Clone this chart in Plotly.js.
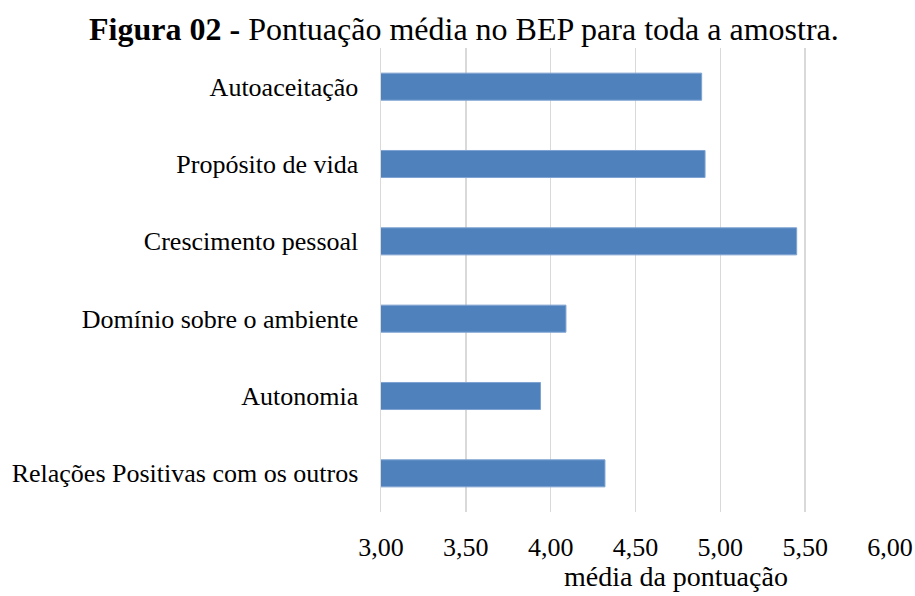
<!DOCTYPE html>
<html>
<head>
<meta charset="utf-8">
<script src="https://cdn.plot.ly/plotly-3.0.1.min.js"></script>
<style>
  html, body { margin: 0; padding: 0; background: #fff; }
  #grafico { width: 915px; height: 596px; }
</style>
</head>
<body>
<div id="grafico"></div>
<script>
// dimensões do BEP, de cima para baixo
var dimensoes = [
    'Autoaceitação',
    'Propósito de vida',
    'Crescimento pessoal',
    'Domínio sobre o ambiente',
    'Autonomia',
    'Relações Positivas com os outros'
];
var medias = [4.89, 4.91, 5.45, 4.09, 3.94, 4.32];
var ticksX = [3.0, 3.5, 4.0, 4.5, 5.0, 5.5, 6.0];

var fonte = 'Liberation Serif, Times New Roman, serif';

var data = [
    {
        type: 'bar',
        orientation: 'h',
        y: dimensoes,
        x: medias,
        base: 0,
        marker: {
            color: '#4f81bd',
            line: { color: '#7fa3d2', width: 1 }
        },
        hoverinfo: 'x+y'
    }
];

var layout = {
    width: 915,
    height: 596,
    paper_bgcolor: '#ffffff',
    plot_bgcolor: '#ffffff',
    margin: { l: 381, r: 25, t: 48, b: 84 },
    separators: ',.',
    showlegend: false,
    bargap: 0.65,
    font: { family: fonte, color: '#000000', size: 26 },
    title: {
        text: '<b>Figura 02 -</b> Pontuação média no BEP para toda a amostra.',
        font: { family: fonte, size: 32, color: '#000000' },
        x: 0.507,
        xanchor: 'center',
        y: 0.952,
        yanchor: 'middle'
    },
    xaxis: {
        range: [3, 6],
        tickvals: ticksX,
        tickformat: '.2f',
        showgrid: true,
        gridcolor: '#d9d9d9',
        gridwidth: 1.5,
        zeroline: false,
        showline: false,
        ticks: '',
        ticklabelstandoff: 17,
        tickfont: { family: fonte, size: 26, color: '#000000' }
    },
    yaxis: {
        type: 'category',
        autorange: 'reversed',
        showgrid: false,
        showline: true,
        linecolor: '#d9d9d9',
        linewidth: 1.5,
        ticks: '',
        ticklabelstandoff: 16,
        tickfont: { family: fonte, size: 26, color: '#000000' }
    },
    annotations: [
        {
            text: 'média da pontuação',
            xref: 'paper',
            yref: 'paper',
            x: 0.58,
            y: -0.138,
            xanchor: 'center',
            yanchor: 'middle',
            showarrow: false,
            font: { family: fonte, size: 28, color: '#000000' }
        }
    ]
};

Plotly.newPlot('grafico', data, layout, { displayModeBar: false, staticPlot: true });
</script>
</body>
</html>
